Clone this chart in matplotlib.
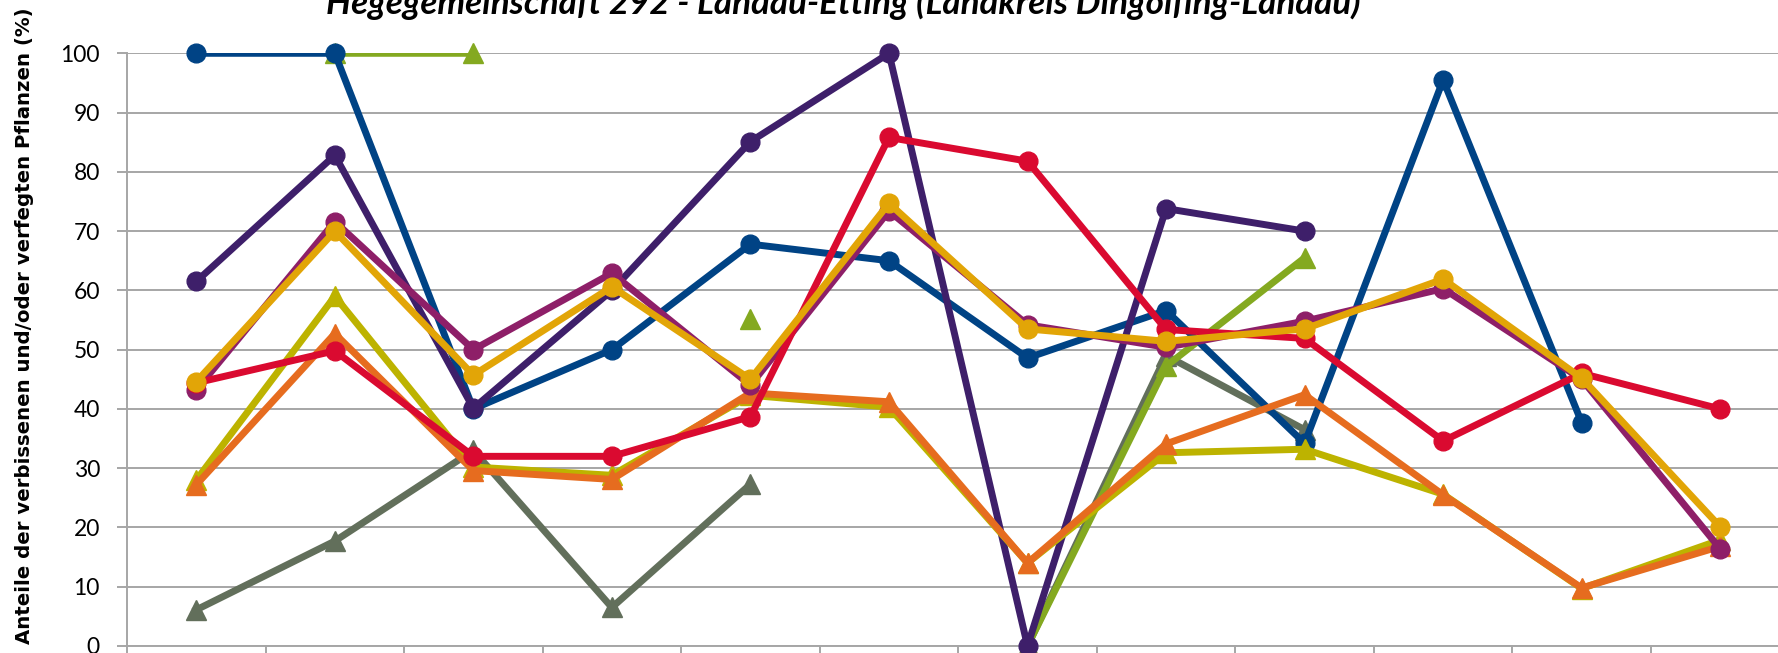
import numpy as np
import matplotlib
matplotlib.use("Agg")
import matplotlib.pyplot as plt

nan = np.nan

# categories (x labels are cut off in the reference)
categories = list(range(1, 13))

blue    = [100, 100, 40, 50, 67.8, 65, 48.6, 56.6, 34.2, 95.5, 37.7, nan]
green   = [nan, 100, 100, nan, 55.2, nan, 0, 47.2, 65.5, nan, nan, nan]
purple  = [61.5, 82.8, 40.1, 60, 85.1, 100, 0, 73.8, 70, nan, nan, nan]
magenta = [43.2, 71.6, 50, 62.9, 44, 73.4, 54.2, 50.4, 54.8, 60.3, 45, 16.4]
red     = [44.4, 49.8, 32, 32, 38.7, 85.8, 81.8, 53.4, 51.9, 34.6, 46, 40]
gold    = [44.6, 70, 45.7, 60.6, 45, 74.7, 53.5, 51.4, 53.5, 61.9, 45.2, 20.1]
olive   = [28, 59, 30.2, 28.8, 42.3, 40.3, 14, 32.6, 33.2, 25.6, 9.7, 17.9]
orange  = [27.2, 52.7, 29.6, 28.1, 42.7, 41.2, 14, 34.1, 42.4, 25.5, 9.8, 16.8]
gray    = [6.1, 17.7, 33, 6.5, 27.3, nan, 0, 49, 36.5, nan, nan, nan]

yticks = list(range(0, 101, 10))

title = "Hegegemeinschaft 292 - Landau-Etting (Landkreis Dingolfing-Landau)"
ylabel = "Anteile der verbissenen und/oder verfegten Pflanzen (%)"

series = [
    (gray, "#626F5B", "^"),
    (green, "#84A920", "^"),
    (blue, "#004385", "o"),
    (purple, "#3E1F6A", "o"),
    (olive, "#BDB300", "^"),
    (orange, "#E66C1F", "^"),
    (magenta, "#8E1F68", "o"),
    (red, "#DA0A30", "o"),
    (gold, "#E2A507", "o"),
]

W, H = 1778, 653
fig = plt.figure(figsize=(W / 100, H / 100), dpi=100)
left = 127 / W
right = 1789.5 / W
bottom = (H - 646) / H
top = (H - 53.3) / H
ax = fig.add_axes([left, bottom, right - left, top - bottom])

x = np.arange(1, len(categories) + 1)
for i, (vals, col, mk) in enumerate(series):
    v = np.array(vals, dtype=float)
    ax.plot(x, v, color=col, lw=5.0, solid_joinstyle="round", zorder=3 + i * 0.1, clip_on=True)
    ms = 13.5 if mk == "o" else 14.5
    ax.plot(x, v, ls="none", marker=mk, ms=ms, color=col, mec=col, zorder=3 + i * 0.1 + 0.05, clip_on=False)

ax.set_xlim(0.5, len(categories) + 0.5)
ax.set_ylim(0, 100)
ax.set_yticks(yticks)
ax.set_xticks(np.arange(0.5, len(categories) + 1, 1.0))
ax.set_xticklabels([])
ax.grid(axis="y", color="#A6A6A6", lw=1.4, zorder=0)
for s in ["top", "right"]:
    ax.spines[s].set_visible(False)
for s in ["left", "bottom"]:
    ax.spines[s].set_color("#A6A6A6")
    ax.spines[s].set_linewidth(1.4)
ax.tick_params(axis="y", length=7, width=1.4, color="#A6A6A6", pad=12.5,
               labelsize=16.5, labelcolor="#000000")
ax.tick_params(axis="x", length=10, width=1.4, color="#A6A6A6")
for lab in ax.get_yticklabels():
    lab.set_family("Lato")

fig.text(843 / W, (H - 14) / H, title, ha="center", va="baseline",
         fontsize=25.2, fontweight="bold", fontstyle="italic", family="Lato")
fig.text(25 / W, 1 - 326 / H, ylabel, rotation=90, ha="center", va="center",
         fontsize=14.2, fontweight="bold", family="DejaVu Sans")

fig.savefig("out.png", dpi=100)
